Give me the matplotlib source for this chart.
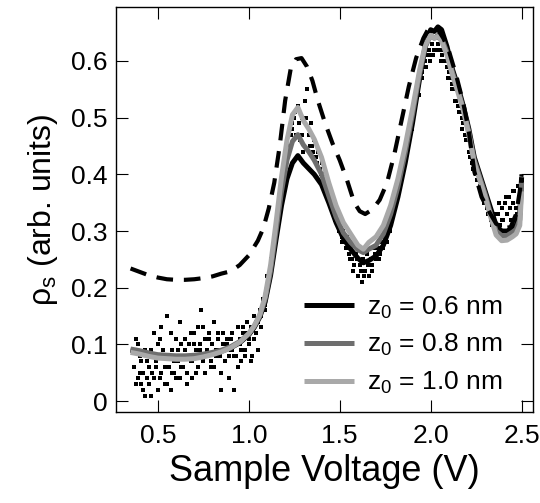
import numpy as np
import matplotlib
matplotlib.use('Agg')
import matplotlib.pyplot as plt

plt.rcParams.update({
    'font.family': ['Liberation Sans', 'DejaVu Sans'],
    'mathtext.fontset': 'custom',
    'mathtext.rm': 'Liberation Sans',
    'mathtext.it': 'Liberation Sans:italic',
    'axes.linewidth': 1.0,
})

# measured (noisy) spectrum, two sweeps in the low-bias region
raw_lo_a = [0.06, 0.11, 0.04, 0.08, 0.03, 0.05, 0.01, 0.07, 0.03, 0.09,
            0.05, 0.12, 0.06, 0.10, 0.04, 0.13, 0.08, 0.03, 0.15, 0.06,
            0.02, 0.09, 0.05, 0.11, 0.07, 0.04, 0.10, 0.06, 0.09, 0.03,
            0.08, 0.12, 0.07, 0.10, 0.05, 0.13, 0.09, 0.16, 0.07, 0.11,
            0.08, 0.12, 0.06, 0.10, 0.14, 0.08, 0.11, 0.09, 0.02, 0.12,
            0.07, 0.10, 0.08, 0.11, 0.09, 0.02, 0.08, 0.13, 0.10, 0.07,
            0.12, 0.09, 0.14, 0.11, 0.13, 0.08, 0.15, 0.12, 0.14, 0.16,
            0.15, 0.18, 0.17, 0.22]
raw_lo_b = [0.09, 0.03, 0.10, 0.05, 0.07, 0.02, 0.09, 0.04, 0.06, 0.01,
            0.08, 0.04, 0.07, 0.02, 0.11, 0.05, 0.09, 0.06, 0.03, 0.08,
            0.12, 0.05, 0.07, 0.04, 0.09, 0.14, 0.06, 0.08, 0.11, 0.05,
            0.10, 0.07, 0.04, 0.12, 0.09, 0.06, 0.10, 0.08, 0.13, 0.05,
            0.09, 0.11, 0.07, 0.10, 0.06, 0.09, 0.12, 0.08, 0.05, 0.10,
            0.07, 0.11, 0.04, 0.09, 0.12, 0.08, 0.10, 0.06, 0.11, 0.09,
            0.13, 0.08, 0.12, 0.10, 0.07, 0.13, 0.11, 0.14, 0.09, 0.15,
            0.13, 0.17, 0.16, 0.20]
raw_hi_a = [0.21, 0.25, 0.24, 0.29, 0.31, 0.33, 0.36, 0.38, 0.40, 0.42,
            0.44, 0.45, 0.47, 0.48, 0.50, 0.47, 0.52, 0.46, 0.50, 0.44,
            0.53, 0.55, 0.47, 0.49, 0.45, 0.46, 0.43, 0.44, 0.41, 0.42,
            0.39, 0.40, 0.37, 0.36, 0.37, 0.34, 0.35, 0.33, 0.31, 0.32,
            0.29, 0.30, 0.28, 0.29, 0.26, 0.27, 0.25, 0.24, 0.26, 0.22,
            0.24, 0.21, 0.25, 0.23, 0.26, 0.22, 0.25, 0.24, 0.27, 0.25,
            0.27, 0.26, 0.28, 0.27, 0.29, 0.28, 0.31, 0.32, 0.34, 0.35,
            0.37, 0.38, 0.40, 0.42, 0.43, 0.45, 0.46, 0.48, 0.50, 0.51,
            0.52, 0.54, 0.55, 0.57, 0.58, 0.59, 0.60, 0.61, 0.62, 0.61,
            0.63, 0.62, 0.64, 0.63, 0.62, 0.61, 0.62, 0.60, 0.59, 0.58,
            0.57, 0.56, 0.55, 0.53, 0.52, 0.51, 0.50, 0.49, 0.47, 0.46,
            0.44, 0.43, 0.42, 0.41, 0.40, 0.39, 0.38, 0.37, 0.36, 0.35,
            0.34, 0.33, 0.32, 0.31, 0.32, 0.30, 0.33, 0.31, 0.34, 0.32,
            0.35, 0.33, 0.36, 0.32, 0.35, 0.37, 0.34, 0.38, 0.36, 0.39]
raw_hi_b = [0.23, 0.27, 0.33, 0.37, 0.42, 0.45, 0.49, 0.51, 0.49, 0.47,
            0.50, 0.45, 0.44, 0.42, 0.40, 0.38, 0.36, 0.35, 0.32, 0.30,
            0.28, 0.27, 0.25, 0.23, 0.25, 0.23, 0.22, 0.24, 0.23, 0.26,
            0.25, 0.27, 0.28, 0.30, 0.33, 0.36, 0.39, 0.42, 0.45, 0.48,
            0.52, 0.54, 0.57, 0.59, 0.60, 0.61, 0.62, 0.60, 0.60, 0.57,
            0.55, 0.53, 0.51, 0.48, 0.46, 0.43, 0.41, 0.39, 0.37, 0.35,
            0.33, 0.31, 0.33, 0.35, 0.32, 0.36, 0.34, 0.37, 0.33, 0.37]

# fitted curves for three tip heights
fit_v = [0.35, 0.40, 0.45, 0.50, 0.55, 0.60, 0.65, 0.70, 0.75, 0.80,
         0.85, 0.90, 0.95, 1.00, 1.03, 1.06, 1.09, 1.12, 1.15, 1.18,
         1.21, 1.24, 1.27, 1.30, 1.33, 1.36, 1.40, 1.44, 1.48, 1.52,
         1.56, 1.60, 1.63, 1.66, 1.70, 1.74, 1.78, 1.82, 1.86, 1.90,
         1.94, 1.97, 2.00, 2.02, 2.04, 2.06, 2.09, 2.12, 2.15, 2.18,
         2.21, 2.24, 2.27, 2.30, 2.33, 2.36, 2.39, 2.42, 2.45, 2.47,
         2.49, 2.50]
fit_06 = [0.090, 0.087, 0.083, 0.080, 0.079, 0.078, 0.078, 0.079, 0.081, 0.084,
          0.088, 0.094, 0.103, 0.117, 0.130, 0.148, 0.175, 0.222, 0.285, 0.345,
          0.392, 0.420, 0.433, 0.420, 0.410, 0.400, 0.382, 0.350, 0.315, 0.287,
          0.268, 0.252, 0.244, 0.248, 0.256, 0.275, 0.310, 0.360, 0.420, 0.490,
          0.570, 0.625, 0.655, 0.652, 0.660, 0.655, 0.625, 0.585, 0.555, 0.520,
          0.480, 0.430, 0.400, 0.370, 0.340, 0.310, 0.300, 0.300, 0.305, 0.310,
          0.330, 0.395]
fit_08 = [0.092, 0.089, 0.085, 0.082, 0.081, 0.080, 0.080, 0.081, 0.083, 0.086,
          0.090, 0.096, 0.105, 0.119, 0.132, 0.150, 0.180, 0.230, 0.300, 0.370,
          0.425, 0.458, 0.470, 0.452, 0.440, 0.425, 0.400, 0.362, 0.325, 0.297,
          0.280, 0.267, 0.262, 0.268, 0.275, 0.295, 0.330, 0.378, 0.438, 0.505,
          0.578, 0.625, 0.645, 0.640, 0.645, 0.640, 0.615, 0.580, 0.550, 0.515,
          0.475, 0.425, 0.395, 0.365, 0.330, 0.300, 0.292, 0.292, 0.298, 0.303,
          0.320, 0.385]
fit_10 = [0.086, 0.083, 0.079, 0.076, 0.075, 0.074, 0.074, 0.075, 0.078, 0.082,
          0.087, 0.094, 0.104, 0.119, 0.133, 0.152, 0.185, 0.240, 0.315, 0.395,
          0.460, 0.505, 0.518, 0.495, 0.480, 0.462, 0.430, 0.385, 0.345, 0.315,
          0.295, 0.275, 0.268, 0.280, 0.290, 0.310, 0.345, 0.392, 0.450, 0.515,
          0.585, 0.628, 0.645, 0.640, 0.643, 0.635, 0.610, 0.575, 0.545, 0.512,
          0.470, 0.420, 0.390, 0.360, 0.325, 0.293, 0.283, 0.284, 0.290, 0.295,
          0.310, 0.370]

# dashed reference curve
ref_v = [0.35, 0.40, 0.45, 0.50, 0.55, 0.60, 0.65, 0.70, 0.75, 0.80,
         0.85, 0.90, 0.95, 1.00, 1.05, 1.08, 1.11, 1.14, 1.17, 1.20,
         1.23, 1.26, 1.29, 1.32, 1.35, 1.38, 1.42, 1.46, 1.50, 1.54,
         1.58, 1.61, 1.64, 1.68, 1.72, 1.76, 1.80, 1.84, 1.88, 1.92,
         1.96, 1.99, 2.01, 2.04, 2.07, 2.10, 2.14, 2.18, 2.21, 2.24,
         2.28, 2.32, 2.36, 2.40, 2.44, 2.47, 2.49, 2.50]
ref_y = [0.234, 0.228, 0.222, 0.218, 0.215, 0.214, 0.214, 0.215, 0.217, 0.220,
         0.225, 0.229, 0.240, 0.257, 0.283, 0.305, 0.340, 0.385, 0.450, 0.530,
         0.585, 0.603, 0.605, 0.590, 0.565, 0.530, 0.490, 0.455, 0.425, 0.390,
         0.350, 0.335, 0.330, 0.338, 0.355, 0.385, 0.435, 0.495, 0.555, 0.605,
         0.640, 0.658, 0.662, 0.655, 0.640, 0.618, 0.575, 0.525, 0.475, 0.405,
         0.360, 0.335, 0.313, 0.305, 0.307, 0.330, 0.370, 0.400]

labels = ['z$_0$ = 0.6 nm', 'z$_0$ = 0.8 nm', 'z$_0$ = 1.0 nm']
colors = ['#000000', '#6e6e6e', '#a9a9a9']

fig = plt.figure(figsize=(5.4, 5.03), dpi=100)
ax = fig.add_axes([0.2148, 0.181, 0.772, 0.805])

lo_v = 0.37 + 0.01 * np.arange(len(raw_lo_a))
hi_v = 1.11 + 0.01 * np.arange(len(raw_hi_a))
hi_v2 = 1.115 + 0.02 * np.arange(len(raw_hi_b))
for vx, vy in [(lo_v, raw_lo_a), (lo_v, raw_lo_b), (hi_v, raw_hi_a), (hi_v2, raw_hi_b)]:
    ax.plot(vx, vy, ls='none', marker='s', ms=2.6, color='black', mew=0, zorder=1)

for y, c, lab in zip([fit_06, fit_08, fit_10], colors, labels):
    ax.plot(fit_v, y, color=c, lw=3.6, label=lab, zorder=2,
            solid_capstyle='butt', solid_joinstyle='round')
ax.plot(ref_v, ref_y, color='black', lw=3.0, dashes=(4, 2.6), zorder=3)

ax.set_xlim(0.27, 2.562)
ax.set_ylim(-0.019, 0.695)
ax.set_xticks([0.5, 1.0, 1.5, 2.0, 2.5])
ax.set_xticklabels(['0.5', '1.0', '1.5', '2.0', '2.5'])
ax.set_yticks([0, 0.1, 0.2, 0.3, 0.4, 0.5, 0.6])
ax.set_yticklabels(['0', '0.1', '0.2', '0.3', '0.4', '0.5', '0.6'])
ax.tick_params(direction='in', length=8.5, width=0.8, top=True, right=True,
               labelsize=19)
ax.tick_params(axis='x', pad=9)
ax.tick_params(axis='y', pad=6)

ax.set_xlabel('Sample Voltage (V)', fontsize=26, labelpad=4)
ax.set_ylabel('ρ$_{\\mathrm{s}}$ (arb. units)', fontsize=23, labelpad=8)

ax.legend(loc='lower right', bbox_to_anchor=(0.966, 0.0), frameon=False,
          fontsize=19, handlelength=1.9, handletextpad=0.5, labelspacing=0.44,
          borderaxespad=0.2)

fig.savefig('out.png', dpi=100)
